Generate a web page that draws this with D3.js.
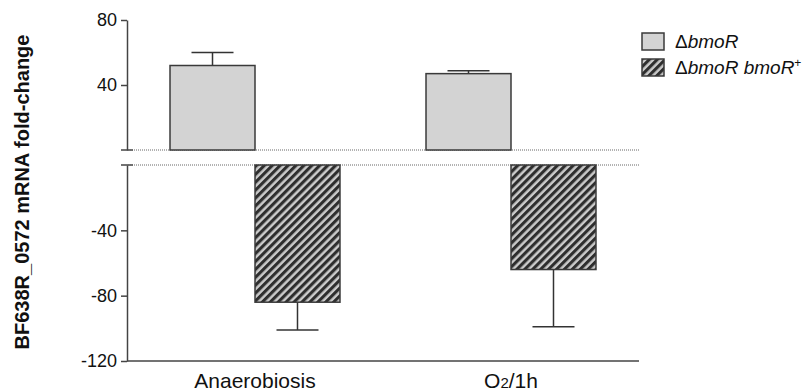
<!DOCTYPE html>
<html>
<head>
<meta charset="utf-8">
<script src="https://cdn.jsdelivr.net/npm/d3@7"></script>
<style>
  body { margin: 0; background: #fff; }
  svg text { font-family: "Liberation Sans", Arial, sans-serif; }
  .tick text { font-size: 18px; fill: #111; font-family: "Liberation Sans", Arial, sans-serif; }
  .domain, .tick line { stroke: #444; stroke-width: 1.5px; }
</style>
</head>
<body>
<div id="chart"></div>
<script>
// data
var groups = ["Anaerobiosis", "O2/1h"]
var seriesNames = ["deltaBmoR", "complemented"]
var deltaMeans = [52, 47]
var deltaErr = [8, 1.8]
var compMeans = [-84, -64]
var compErr = [17, 35]
var topTicks = [40, 80]
var bottomTicks = [-120, -80, -40]

var width = 810, height = 391
var left = 127, right = 639
var font = "Liberation Sans, Arial, sans-serif"

var svg = d3.select("#chart")
    .append("svg")
      .attr("width", width)
      .attr("height", height)

// hatch for the complemented strain
var defs = svg.append("defs")
var pat = defs.append("pattern")
    .attr("id", "hatch")
    .attr("patternUnits", "userSpaceOnUse")
    .attr("width", 5.6)
    .attr("height", 5.6)
    .attr("patternTransform", "rotate(45)")
pat.append("rect")
    .attr("width", 5.6).attr("height", 5.6)
    .attr("fill", "#cbcbcb")
pat.append("rect")
    .attr("width", 3.1).attr("height", 5.6)
    .attr("fill", "#2e2e2e")

var x0 = d3.scaleBand()
    .domain(groups)
    .range([left, right])
    .paddingInner(0.336)
    .paddingOuter(0.168)

var x1 = d3.scaleBand()
    .domain(seriesNames)
    .range([0, x0.bandwidth()])

// broken y axis: two segments
var yTop = d3.scaleLinear().domain([0, 80]).range([150, 20])
var yBot = d3.scaleLinear().domain([-120, 0]).range([361, 165])
var fmt = function(d) { return String(d) }

svg.append("g")
    .attr("class", "y axis")
    .attr("transform", "translate(" + left + ",0)")
    .attr("font-family", font)
    .call(d3.axisLeft(yTop).tickValues(topTicks).tickFormat(fmt).tickSize(6).tickSizeOuter(0).tickPadding(4))

svg.append("g")
    .attr("class", "y axis")
    .attr("transform", "translate(" + left + ",0)")
    .attr("font-family", font)
    .call(d3.axisLeft(yBot).tickValues(bottomTicks).tickFormat(fmt).tickSize(6).tickSizeOuter(0).tickPadding(4))

// break ticks (cross both sides of the axis)
svg.selectAll(".breakTick")
    .data([yTop(0), yBot(0)])
  .enter().append("line")
    .attr("x1", left - 6)
    .attr("x2", left + 6)
    .attr("y1", function(d) { return d })
    .attr("y2", function(d) { return d })
    .attr("stroke", "#444")
    .attr("stroke-width", 1.5)

// dotted zero lines
svg.selectAll(".zeroLine")
    .data([yTop(0), yBot(0)])
  .enter().append("line")
    .attr("x1", left + 1)
    .attr("x2", right)
    .attr("y1", function(d) { return d })
    .attr("y2", function(d) { return d })
    .attr("stroke", "#666")
    .attr("stroke-width", 1)
    .attr("stroke-dasharray", "1,1")

// x axis line
svg.append("line")
    .attr("x1", left)
    .attr("x2", right)
    .attr("y1", yBot(-120))
    .attr("y2", yBot(-120))
    .attr("stroke", "#444")
    .attr("stroke-width", 1.5)

// error bars first so bars sit over the stems
var capW = 42
function errBar(cx, yBase, yEnd) {
  svg.append("line")
      .attr("x1", cx).attr("x2", cx)
      .attr("y1", yBase).attr("y2", yEnd)
      .attr("stroke", "#333").attr("stroke-width", 1.5)
  svg.append("line")
      .attr("x1", cx - capW / 2).attr("x2", cx + capW / 2)
      .attr("y1", yEnd).attr("y2", yEnd)
      .attr("stroke", "#333").attr("stroke-width", 1.5)
}

groups.forEach(function(g, i) {
  var xa = x0(g) + x1("deltaBmoR")
  var xb = x0(g) + x1("complemented")
  var bw = x1.bandwidth()

  errBar(xa + bw / 2, yTop(deltaMeans[i]), yTop(deltaMeans[i] + deltaErr[i]))
  errBar(xb + bw / 2, yBot(compMeans[i]), yBot(compMeans[i] - compErr[i]))

  svg.append("rect")
      .attr("x", xa)
      .attr("y", yTop(deltaMeans[i]))
      .attr("width", bw)
      .attr("height", yTop(0) - yTop(deltaMeans[i]))
      .attr("fill", "#d3d3d3")
      .attr("stroke", "#3a3a3a")
      .attr("stroke-width", 1.5)

  svg.append("rect")
      .attr("x", xb)
      .attr("y", yBot(0))
      .attr("width", bw)
      .attr("height", yBot(compMeans[i]) - yBot(0))
      .attr("fill", "url(#hatch)")
      .attr("stroke", "#3a3a3a")
      .attr("stroke-width", 1.5)
})

// category labels
svg.append("text")
    .attr("x", x0("Anaerobiosis") + x0.bandwidth() / 2)
    .attr("y", 388)
    .attr("text-anchor", "middle")
    .attr("font-family", font)
    .style("font-size", "21px")
    .attr("fill", "#111")
    .text("Anaerobiosis")

var labB = svg.append("text")
    .attr("x", x0("O2/1h") + x0.bandwidth() / 2)
    .attr("y", 388)
    .attr("text-anchor", "middle")
    .attr("font-family", font)
    .style("font-size", "21px")
    .attr("fill", "#111")
labB.append("tspan").text("O")
labB.append("tspan").style("font-size", "15px").text("2")
labB.append("tspan").text("/1h")

// y label
svg.append("text")
    .attr("transform", "translate(29,192) rotate(-90)")
    .attr("text-anchor", "middle")
    .attr("font-family", font)
    .style("font-size", "20px")
    .style("font-weight", "bold")
    .attr("fill", "#111")
    .text("BF638R_0572 mRNA fold-change")

// legend
var legend = svg.append("g").attr("transform", "translate(642,33)")
legend.append("rect")
    .attr("width", 22).attr("height", 17)
    .attr("fill", "#d3d3d3").attr("stroke", "#3a3a3a").attr("stroke-width", 1.5)
legend.append("rect")
    .attr("y", 26)
    .attr("width", 22).attr("height", 17)
    .attr("fill", "url(#hatch)").attr("stroke", "#3a3a3a").attr("stroke-width", 1.5)

var t1 = legend.append("text")
    .attr("x", 33).attr("y", 15)
    .attr("font-family", font)
    .style("font-size", "19px").attr("fill", "#111")
t1.append("tspan").text("\u0394")
t1.append("tspan").style("font-style", "italic").text("bmoR")

var t2 = legend.append("text")
    .attr("x", 33).attr("y", 41)
    .attr("font-family", font)
    .style("font-size", "19px").attr("fill", "#111")
t2.append("tspan").text("\u0394")
t2.append("tspan").style("font-style", "italic").text("bmoR bmoR")
t2.append("tspan").style("font-size", "12px").attr("dy", -7).text("+")
</script>
</body>
</html>
